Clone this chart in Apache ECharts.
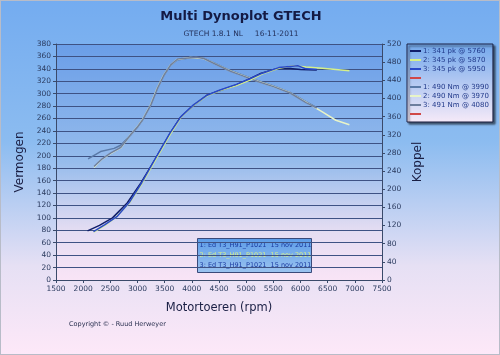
<!DOCTYPE html>
<html>
<head>
<meta charset="utf-8">
<script src="https://cdn.jsdelivr.net/npm/echarts@6/dist/echarts.min.js"></script>
<style>
html,body{margin:0;padding:0;}
#c{width:500px;height:355px;box-sizing:border-box;border:1px solid #b8bcc8;
background:linear-gradient(180deg,#74acf0 0%,#8cbcf0 40%,#e6e0f4 75%,#fde8f8 100%);}
</style>
</head>
<body>
<div id="c"></div>
<script>
// ---- data ----
const rpmP1 = [2080,2300,2540,2810,3060,3330,3600,3790,4030,4270,4520,4820,5070,5250,5560,5760,6000,6300];
const pk1   = [79,88,100,124,156,195,236,262,281,297,305,314,324,332,340,341,339,338];
const rpmP2 = [2195,2400,2600,2850,3080,3330,3600,3800,4030,4270,4520,4820,5070,5300,5600,5870,6100,6400,6650,6900];
const pk2   = [77,88,101,124,155,193,234,262,281,296,305,313,322,332,341,345,343,341,339,337];
const rpmP3 = [2190,2400,2620,2850,3080,3330,3600,3800,4030,4270,4520,4820,5070,5300,5600,5950,6100,6300];
const pk3   = [78,89,102,125,157,196,237,263,282,297,306,315,324,333,342,345,340,339];

const rpmT1 = [2090,2320,2570,2690,2870,3000,3090,3240,3360,3480,3600,3730,3990,4210,4400,4700,4880,5190,5490,5800,6100,6300];
const nm1   = [267,283,290,297,319,337,352,385,421,450,472,485,490,489,479,462,454,440,428,414,393,380];
const rpmT2 = [2200,2320,2510,2690,2870,3000,3090,3240,3360,3480,3600,3730,3970,4210,4400,4700,4880,5190,5490,5800,6100,6410,6650,6900];
const nm2   = [248,264,279,291,320,338,353,386,422,451,473,486,490,488,478,461,453,439,427,413,392,370,352,342];
const rpmT3 = [2200,2330,2510,2690,2880,3010,3100,3250,3370,3490,3610,3740,4080,4220,4410,4710,4890,5200,5500,5810,6100,6300];
const nm3   = [250,265,280,292,321,339,354,387,423,452,474,487,491,488,477,460,452,438,426,412,391,379];

const legendNames = ['1: 341 pk @ 5760','2: 345 pk @ 5870','3: 345 pk @ 5950',' ',
                     '1: 490 Nm @ 3990','2: 490 Nm @ 3970','3: 491 Nm @ 4080','  '];
const infoLines = ['1: Ed T3_H91_P1021  15 nov 2011','2: Ed T3_H91_P1021  15 nov 2011','3: Ed T3_H91_P1021  15 nov 2011'];
const colors = ['#101e6a','#d6f08a','#2a48c8','#d04848','#5a7aa8','#e8f4c8','#6e7e9e','#d04848'];

function pairs(x,y){return x.map((v,i)=>[v,y[i]]);}

const chart = echarts.init(document.getElementById('c'));
const font = 'Verdana, "DejaVu Sans", sans-serif';

const seriesData = [
  {d:pairs(rpmP1,pk1),ax:0},{d:pairs(rpmP2,pk2),ax:0},{d:pairs(rpmP3,pk3),ax:0},{d:[],ax:0},
  {d:pairs(rpmT1,nm1),ax:1},{d:pairs(rpmT2,nm2),ax:1},{d:pairs(rpmT3,nm3),ax:1},{d:[],ax:1}
];

const axisCol = '#3a4a6a';
const labCol = '#2a3a5e';
const plain = v => String(v);

chart.setOption({
  animation:false,
  color:colors,
  title:[{text:'Multi Dynoplot GTECH',left:235,top:4,textAlign:'center',
          textStyle:{fontSize:13,fontWeight:'bold',color:'#141a44',fontFamily:font}},
         {text:'GTECH 1.8.1 NL     16-11-2011',left:235,top:24,textAlign:'center',
          textStyle:{fontSize:7.5,fontWeight:'normal',color:'#23305a',fontFamily:font}}],
  grid:{left:55,right:117,top:43,bottom:74,show:true,borderWidth:0,
        backgroundColor:new echarts.graphic.LinearGradient(0,0,0,1,[
          {offset:0,color:'#6a9ee8'},{offset:0.5,color:'#96bcec'},{offset:0.78,color:'#e2dcf2'},{offset:1,color:'#f9e4f6'}])},
  legend:{orient:'vertical',left:406,top:43,itemWidth:11,itemHeight:2,itemGap:1,
          padding:[3,4,4,3],data:legendNames.map(n=>({name:n,icon:'rect'})),
          backgroundColor:new echarts.graphic.LinearGradient(0,0,0,1,[{offset:0,color:'#72a8ec'},{offset:1,color:'#f6eaf8'}]),
          borderColor:'#1a1f40',borderWidth:1,shadowColor:'rgba(0,0,0,0.55)',shadowOffsetX:2,shadowOffsetY:2,shadowBlur:2,
          textStyle:{fontSize:7,color:'#223a8a',fontFamily:font,padding:[0,0,0,-3],lineHeight:8}},
  xAxis:{type:'value',min:1500,max:7500,interval:500,
         name:'Motortoeren (rpm)',nameLocation:'middle',nameGap:22,
         nameTextStyle:{fontSize:11.5,color:'#1a1f44',fontFamily:font},
         axisLine:{lineStyle:{color:axisCol}},axisTick:{show:true,length:3,lineStyle:{color:axisCol}},
         axisLabel:{fontSize:7.5,color:labCol,fontFamily:font,margin:5,formatter:plain},splitLine:{show:false}},
  yAxis:[{type:'value',min:0,max:380,interval:20,position:'left',
          name:'Vermogen',nameLocation:'middle',nameGap:28,nameRotate:90,
          nameTextStyle:{fontSize:12,color:'#1a1f44',fontFamily:font},
          axisLine:{show:true,lineStyle:{color:axisCol}},axisTick:{show:true,length:3,lineStyle:{color:axisCol}},
          axisLabel:{fontSize:7.5,color:labCol,fontFamily:font,margin:5,formatter:plain},
          splitLine:{show:true,lineStyle:{color:'#3e5284',width:1}}},
         {type:'value',min:0,max:520,interval:40,position:'right',
          name:'Koppel',nameLocation:'middle',nameGap:22,nameRotate:90,
          nameTextStyle:{fontSize:12,color:'#1a1f44',fontFamily:font},
          axisLine:{show:true,lineStyle:{color:axisCol}},axisTick:{show:true,length:3,lineStyle:{color:axisCol}},
          axisLabel:{fontSize:7.5,color:labCol,fontFamily:font,margin:5,formatter:plain},
          splitLine:{show:false}}],
  graphic:[
    {type:'text',left:68,top:320,style:{text:'Copyright \u00a9 - Ruud Herweyer',fontSize:6.5,fill:'#2a3050',fontFamily:font}},
    {type:'group',left:196,top:237,children:[
      {type:'rect',shape:{x:0,y:0,width:114,height:34},
       style:{fill:new echarts.graphic.LinearGradient(0,0,0,1,[{offset:0,color:'#5c9ce8'},{offset:1,color:'#9cc4f0'}]),stroke:'#3a4a7a',lineWidth:1}},
      {type:'text',x:2,y:3,style:{text:infoLines[0],fontSize:6.5,fill:'#1a3aa0',fontFamily:font}},
      {type:'text',x:2,y:13,style:{text:infoLines[1],fontSize:6.5,fill:'#d6f08a',fontFamily:font}},
      {type:'text',x:2,y:23,style:{text:infoLines[2],fontSize:6.5,fill:'#1a3aa0',fontFamily:font}}
    ]}
  ],
  series:seriesData.map((s,i)=>({
    name:legendNames[i],type:'line',yAxisIndex:s.ax,data:s.d,showSymbol:false,symbol:'none',
    lineStyle:{width:1.5,color:colors[i]},itemStyle:{color:colors[i]},z:i>=4?2:3
  }))
});
</script>
</body>
</html>
